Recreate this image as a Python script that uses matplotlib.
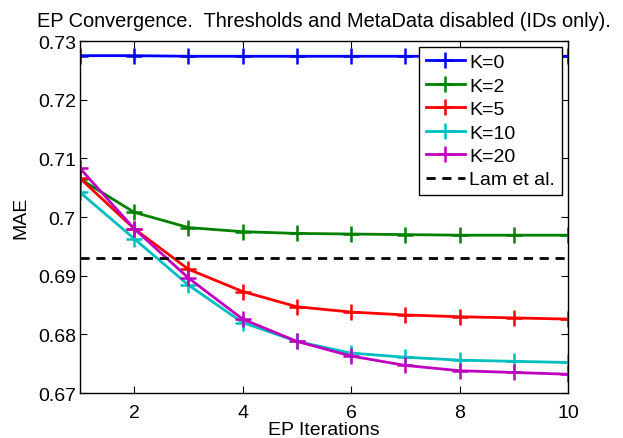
import numpy as np
import matplotlib.pyplot as plt
from matplotlib.ticker import FuncFormatter

plt.rcParams['font.family'] = ['Liberation Sans', 'DejaVu Sans']

# EP iterations
iters = np.arange(1, 11)

# MAE per iteration for each K
mae_k0 = [0.7275, 0.7275, 0.7274, 0.7274, 0.7274, 0.7274, 0.7274, 0.7274, 0.7274, 0.7274]
mae_k2 = [0.7065, 0.7008, 0.6982, 0.6975, 0.6972, 0.6971, 0.6970, 0.6969, 0.6969, 0.6969]
mae_k5 = [0.7066, 0.6980, 0.6911, 0.6873, 0.6847, 0.6838, 0.6833, 0.6830, 0.6828, 0.6826]
mae_k10 = [0.7042, 0.6963, 0.6884, 0.6820, 0.6788, 0.6768, 0.6761, 0.6756, 0.6754, 0.6752]
mae_k20 = [0.7083, 0.6980, 0.6896, 0.6826, 0.6788, 0.6763, 0.6747, 0.6738, 0.6735, 0.6732]
lam_baseline = 0.693

series = [
    ('K=0', mae_k0, (0, 0, 1)),
    ('K=2', mae_k2, (0, 0.5, 0)),
    ('K=5', mae_k5, (1, 0, 0)),
    ('K=10', mae_k10, (0, 0.75, 0.75)),
    ('K=20', mae_k20, (0.75, 0, 0.75)),
]

fs = 14
fig = plt.figure(figsize=(6.23, 4.39), dpi=100)
ax = fig.add_axes([0.1284, 0.1025, 0.7833, 0.8018])

for name, vals, col in series:
    ax.plot(iters, vals, color=col, lw=2, marker='+', ms=11, mew=1.8, label=name)
# baseline from Lam et al.
ax.plot([iters[0], iters[-1]], [lam_baseline, lam_baseline], color='k', lw=2,
        linestyle=(0, (3.3, 2.4)), label='Lam et al.')

ax.set_xlim(1, 10)
ax.set_ylim(0.67, 0.73)
ax.set_xticks([2, 4, 6, 8, 10])
ax.set_yticks(np.arange(0.67, 0.7301, 0.01))
ax.yaxis.set_major_formatter(FuncFormatter(lambda v, p: '%g' % round(v, 2)))
ax.tick_params(direction='in', top=True, right=True, labelsize=fs, length=5)
ax.tick_params(axis='x', pad=8)
ax.tick_params(axis='y', pad=3)
for sp in ax.spines.values():
    sp.set_linewidth(1.0)

ax.set_title('EP Convergence.  Thresholds and MetaData disabled (IDs only).', fontsize=14.4, pad=11)
ax.set_xlabel('EP Iterations', fontsize=fs, labelpad=0)
ax.set_ylabel('MAE', fontsize=fs, labelpad=6)

leg = ax.legend(loc='upper right', fontsize=fs, fancybox=False, framealpha=1,
                edgecolor='black', borderaxespad=0.3, handlelength=2.0,
                handletextpad=0.25, labelspacing=0.3, borderpad=0.35)
leg.get_frame().set_linewidth(1.0)

fig.savefig('out.png', dpi=100)
